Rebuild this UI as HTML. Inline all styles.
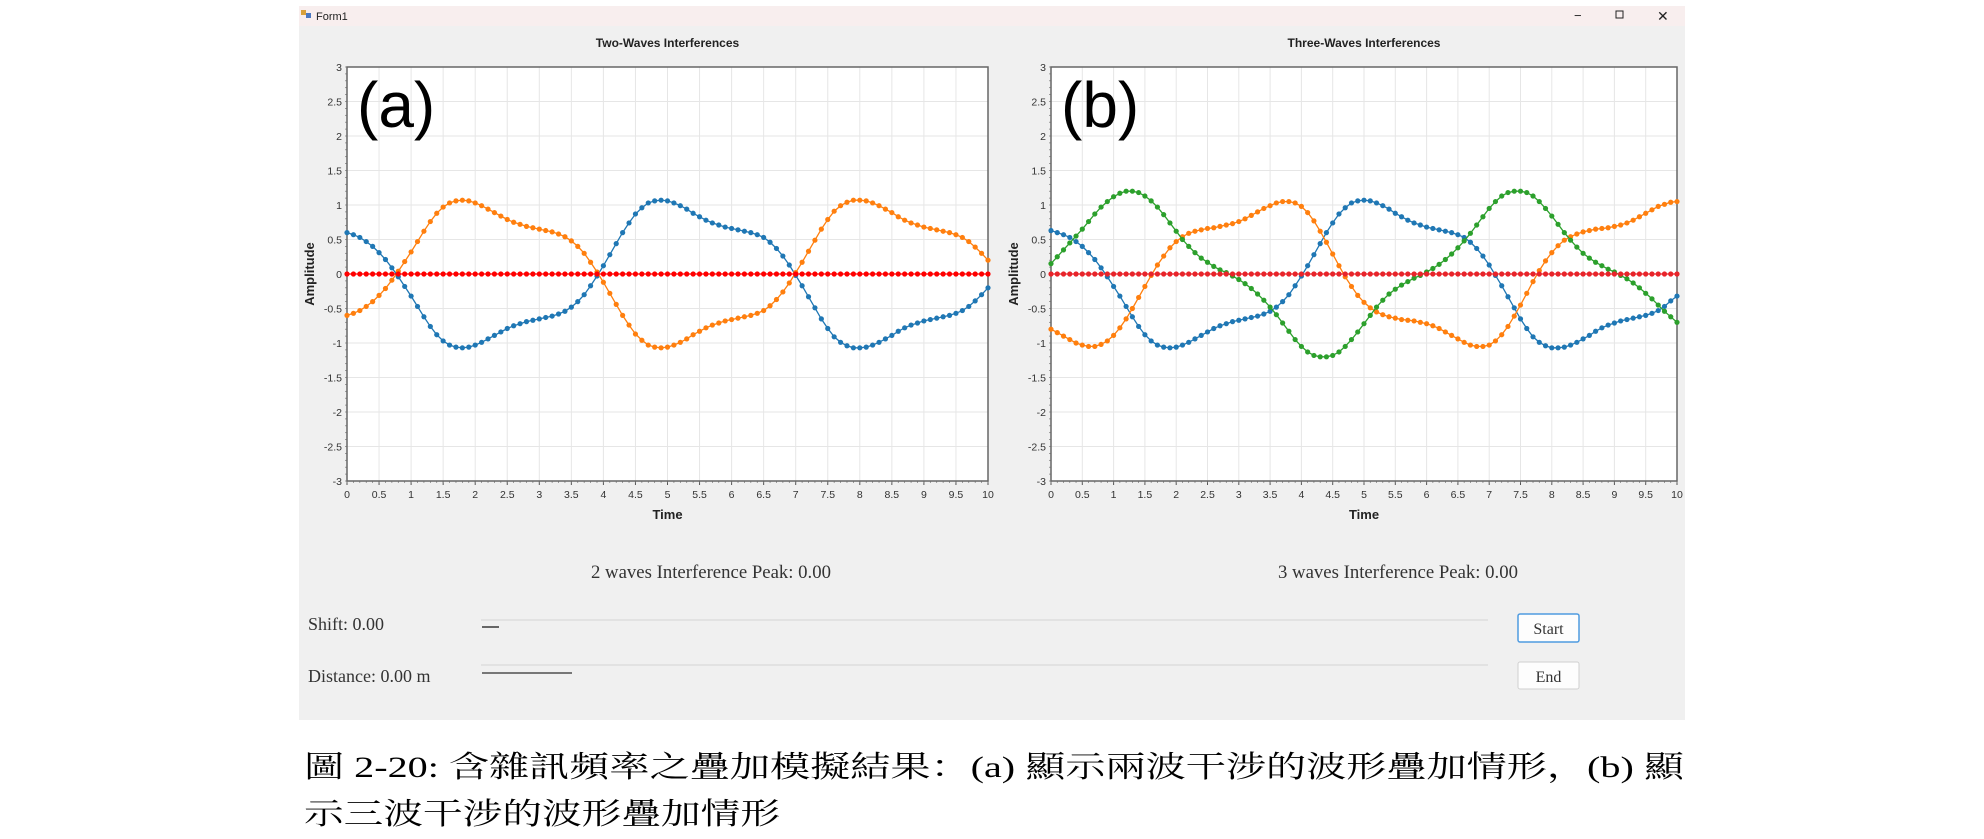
<!DOCTYPE html>
<html><head><meta charset="utf-8"><style>
html,body{margin:0;padding:0;background:#fff;width:1984px;height:839px;overflow:hidden}
svg{display:block}
.ui{font-family:"Liberation Sans Narrow","Liberation Sans",sans-serif}
.sr{font-family:"Liberation Serif","Noto Serif CJK SC",serif}
</style></head><body>
<svg id="root" width="1984" height="839" viewBox="0 0 1984 839" xmlns="http://www.w3.org/2000/svg">
<rect x="299" y="6" width="1386" height="714" fill="#f0f0f0"/>
<rect x="299" y="6" width="1386" height="20" fill="#f8eeee"/>
<rect x="301" y="10" width="5" height="5" fill="#d9a13b"/><rect x="306" y="13" width="5" height="5" fill="#4a78c2"/>
<text x="316" y="20" class="ui" font-size="11" fill="#222">Form1</text>
<text x="1574" y="20" class="ui" font-size="13" fill="#222">−</text>
<rect x="1616" y="11" width="7" height="7" fill="none" stroke="#222" stroke-width="1"/>
<text x="1657" y="21" class="ui" font-size="14" fill="#222">✕</text>
<g id="chartA"></g>
<g id="chartB"></g>
<text x="711" y="578" text-anchor="middle" class="sr" font-size="19" fill="#333" textLength="240" lengthAdjust="spacingAndGlyphs">2 waves Interference Peak: 0.00</text>
<text x="1398" y="578" text-anchor="middle" class="sr" font-size="19" fill="#333" textLength="240" lengthAdjust="spacingAndGlyphs">3 waves Interference Peak: 0.00</text>
<text x="308" y="630" class="sr" font-size="18" fill="#333">Shift: 0.00</text>
<line x1="481" y1="620" x2="1488" y2="620" stroke="#e2e2e2" stroke-width="2"/>
<line x1="482" y1="627" x2="499" y2="627" stroke="#666" stroke-width="2"/>
<text x="308" y="682" class="sr" font-size="18" fill="#333">Distance: 0.00 m</text>
<line x1="481" y1="665" x2="1488" y2="665" stroke="#e2e2e2" stroke-width="2"/>
<line x1="482" y1="673" x2="572" y2="673" stroke="#777" stroke-width="2"/>
<rect x="1518" y="614" width="61" height="28" rx="2" fill="#fdfdfd" stroke="#4f9be0" stroke-width="1.5"/>
<text x="1548.5" y="634" text-anchor="middle" class="sr" font-size="16" fill="#333">Start</text>
<rect x="1518" y="662" width="61" height="27" rx="2" fill="#fdfdfd" stroke="#d0d0d0" stroke-width="1"/>
<text x="1548.5" y="682" text-anchor="middle" class="sr" font-size="16" fill="#333">End</text>
<text x="304" y="777" class="sr" font-size="30" fill="#000" textLength="1380" lengthAdjust="spacingAndGlyphs">圖 2-20: 含雜訊頻率之疊加模擬結果：(a) 顯示兩波干涉的波形疊加情形，(b) 顯</text>
<text x="304" y="824" class="sr" font-size="30" fill="#000" textLength="476" lengthAdjust="spacingAndGlyphs">示三波干涉的波形疊加情形</text>
</svg>
<script>
const timeStart = 0, timeStep = 0.1;
const xTicks = ["0","0.5","1","1.5","2","2.5","3","3.5","4","4.5","5","5.5","6","6.5","7","7.5","8","8.5","9","9.5","10"];
const yTicks = ["-3","-2.5","-2","-1.5","-1","-0.5","0","0.5","1","1.5","2","2.5","3"];
const blueA = [0.60,0.57,0.53,0.47,0.40,0.31,0.21,0.09,-0.04,-0.18,-0.32,-0.47,-0.62,-0.76,-0.88,-0.97,-1.03,-1.06,-1.07,-1.06,-1.03,-0.99,-0.94,-0.89,-0.84,-0.79,-0.75,-0.72,-0.69,-0.67,-0.65,-0.63,-0.61,-0.58,-0.54,-0.48,-0.40,-0.30,-0.17,-0.03,0.12,0.28,0.44,0.60,0.74,0.87,0.96,1.03,1.06,1.07,1.06,1.03,0.99,0.94,0.88,0.83,0.78,0.74,0.71,0.68,0.66,0.64,0.62,0.60,0.57,0.53,0.46,0.37,0.26,0.13,-0.02,-0.17,-0.33,-0.49,-0.65,-0.79,-0.91,-0.99,-1.04,-1.07,-1.07,-1.06,-1.03,-0.99,-0.94,-0.89,-0.83,-0.78,-0.74,-0.71,-0.68,-0.66,-0.64,-0.62,-0.60,-0.57,-0.53,-0.47,-0.39,-0.30,-0.20];
const orangeA = [-0.60,-0.57,-0.53,-0.47,-0.40,-0.31,-0.21,-0.09,0.04,0.18,0.32,0.47,0.62,0.76,0.88,0.97,1.03,1.06,1.07,1.06,1.03,0.99,0.94,0.89,0.84,0.79,0.75,0.72,0.69,0.67,0.65,0.63,0.61,0.58,0.54,0.48,0.40,0.30,0.17,0.03,-0.12,-0.28,-0.44,-0.60,-0.74,-0.87,-0.96,-1.03,-1.06,-1.07,-1.06,-1.03,-0.99,-0.94,-0.88,-0.83,-0.78,-0.74,-0.71,-0.68,-0.66,-0.64,-0.62,-0.60,-0.57,-0.53,-0.46,-0.37,-0.26,-0.13,0.02,0.17,0.33,0.49,0.65,0.79,0.91,0.99,1.04,1.07,1.07,1.06,1.03,0.99,0.94,0.89,0.83,0.78,0.74,0.71,0.68,0.66,0.64,0.62,0.60,0.57,0.53,0.47,0.39,0.30,0.20];
const sumA = [0,0,0,0,0,0,0,0,0,0,0,0,0,0,0,0,0,0,0,0,0,0,0,0,0,0,0,0,0,0,0,0,0,0,0,0,0,0,0,0,0,0,0,0,0,0,0,0,0,0,0,0,0,0,0,0,0,0,0,0,0,0,0,0,0,0,0,0,0,0,0,0,0,0,0,0,0,0,0,0,0,0,0,0,0,0,0,0,0,0,0,0,0,0,0,0,0,0,0,0,0];
const blueB = [0.63,0.60,0.57,0.53,0.47,0.40,0.31,0.21,0.09,-0.04,-0.18,-0.32,-0.47,-0.62,-0.76,-0.88,-0.97,-1.03,-1.06,-1.07,-1.06,-1.03,-0.99,-0.94,-0.89,-0.84,-0.79,-0.75,-0.72,-0.69,-0.67,-0.65,-0.63,-0.61,-0.58,-0.54,-0.48,-0.40,-0.30,-0.17,-0.03,0.12,0.28,0.44,0.60,0.74,0.87,0.96,1.03,1.06,1.07,1.06,1.03,0.99,0.94,0.88,0.83,0.78,0.74,0.71,0.68,0.66,0.64,0.62,0.60,0.57,0.53,0.46,0.37,0.26,0.13,-0.02,-0.17,-0.33,-0.49,-0.65,-0.79,-0.91,-0.99,-1.04,-1.07,-1.07,-1.06,-1.03,-0.99,-0.94,-0.89,-0.83,-0.78,-0.74,-0.71,-0.68,-0.66,-0.64,-0.62,-0.60,-0.57,-0.53,-0.47,-0.39,-0.32];
const orangeB = [-0.80,-0.85,-0.90,-0.95,-1.00,-1.03,-1.05,-1.05,-1.02,-0.97,-0.89,-0.78,-0.65,-0.50,-0.34,-0.18,-0.02,0.13,0.26,0.38,0.47,0.54,0.59,0.62,0.64,0.66,0.67,0.69,0.71,0.73,0.76,0.80,0.85,0.90,0.95,0.99,1.03,1.05,1.05,1.03,0.98,0.89,0.77,0.62,0.46,0.29,0.12,-0.04,-0.18,-0.31,-0.41,-0.49,-0.55,-0.59,-0.62,-0.64,-0.66,-0.67,-0.68,-0.70,-0.72,-0.75,-0.79,-0.84,-0.89,-0.94,-0.99,-1.03,-1.05,-1.05,-1.03,-0.97,-0.88,-0.76,-0.61,-0.45,-0.28,-0.11,0.05,0.19,0.31,0.41,0.49,0.54,0.58,0.61,0.63,0.65,0.66,0.67,0.69,0.71,0.74,0.78,0.83,0.88,0.93,0.98,1.01,1.04,1.05];
const greenB = [0.15,0.25,0.35,0.45,0.55,0.65,0.76,0.87,0.97,1.05,1.12,1.17,1.20,1.20,1.18,1.13,1.06,0.97,0.86,0.74,0.62,0.50,0.40,0.31,0.23,0.17,0.11,0.06,0.02,-0.03,-0.08,-0.14,-0.21,-0.29,-0.38,-0.48,-0.59,-0.71,-0.83,-0.95,-1.05,-1.13,-1.18,-1.20,-1.20,-1.18,-1.13,-1.05,-0.95,-0.84,-0.72,-0.60,-0.48,-0.38,-0.29,-0.22,-0.16,-0.11,-0.06,-0.02,0.03,0.08,0.14,0.21,0.29,0.38,0.48,0.59,0.71,0.83,0.95,1.05,1.13,1.18,1.20,1.20,1.18,1.13,1.05,0.95,0.84,0.72,0.60,0.49,0.39,0.30,0.23,0.17,0.12,0.07,0.03,-0.02,-0.07,-0.13,-0.20,-0.28,-0.36,-0.45,-0.54,-0.62,-0.70];
const sumB = sumA;

const NS="http://www.w3.org/2000/svg";
function mk(tag, attrs, parent){const e=document.createElementNS(NS,tag);for(const k in attrs)e.setAttribute(k,attrs[k]);parent.appendChild(e);return e;}

function drawChart(g, x0, x1, title, tag, series, names){
  const y0=67, y1=481;
  const xs=v=>x0+(v-0)/(10-0)*(x1-x0);
  const ys=v=>y1-(v+3)/6*(y1-y0);
  let e=mk('rect',{x:x0,y:y0,width:x1-x0,height:y1-y0,fill:'#fff'},g);
  
  
  xTicks.forEach(t=>{const v=parseFloat(t),X=xs(v);
    const l=mk('line',{x1:X,y1:y0,x2:X,y2:y1,stroke:'#e6e6e6','stroke-width':1},g);
    
    
    const tk=mk('line',{x1:X,y1:y1,x2:X,y2:y1+4,stroke:'#555'},g);
    
    
    const tx=mk('text',{x:X,y:y1+17,'text-anchor':'middle','font-size':10.5,fill:'#333',class:'ui'},g);tx.textContent=t;
    
    });
  yTicks.forEach(t=>{const v=parseFloat(t),Y=ys(v);
    const l=mk('line',{x1:x0,y1:Y,x2:x1,y2:Y,stroke:'#e6e6e6','stroke-width':1},g);
    
    
    const tx=mk('text',{x:x0-5,y:Y+4,'text-anchor':'end','font-size':10.5,fill:'#333',class:'ui'},g);tx.textContent=t;
    
    });
  for(let i=0;i<=100;i++){const X=xs(i*0.1);const m=mk('line',{x1:X,y1:y1,x2:X,y2:y1+2,stroke:'#777','stroke-width':0.7},g);
    
    }
  for(let i=0;i<=60;i++){const Y=ys(-3+i*0.1);const m=mk('line',{x1:x0-2,y1:Y,x2:x0,y2:Y,stroke:'#777','stroke-width':0.7},g);
    
    }
  e=mk('rect',{x:x0,y:y0,width:x1-x0,height:y1-y0,fill:'none',stroke:'#666','stroke-width':1.5},g);
  
  
  series.forEach((s,si)=>{
    const sg=mk('g',{},g);
    
    
    const pts=s.map((v,i)=>xs(timeStart+i*timeStep).toFixed(1)+','+ys(v).toFixed(1)).join(' ');
    const pl=mk('polyline',{points:pts,fill:'none',stroke:names[si].color,'stroke-width':1.3},sg);
    
    
    s.forEach((v,i)=>{const c=mk('circle',{cx:xs(timeStart+i*timeStep),cy:ys(v),r:2.6,fill:names[si].color},sg);
      
      });
  });
  let t=mk('text',{x:(x0+x1)/2,y:47,'text-anchor':'middle','font-size':12,'font-weight':'bold',fill:'#222',class:'ui'},g);t.textContent=title;
  
  
  t=mk('text',{x:(x0+x1)/2,y:519,'text-anchor':'middle','font-size':13,'font-weight':'bold',fill:'#222',class:'ui'},g);t.textContent='Time';
  
  
  t=mk('text',{x:0,y:0,'text-anchor':'middle','font-size':13,'font-weight':'bold',fill:'#222',class:'ui',transform:`translate(${x0-33},${ys(0)}) rotate(-90)`},g);t.textContent='Amplitude';
  
  
  t=mk('text',{x:x0+10,y:127,'font-size':64,fill:'#000',class:'ui'},g);t.textContent=tag;
  
  
}
drawChart(document.getElementById('chartA'),347,988,'Two-Waves Interferences','(a)',[blueA,orangeA,sumA],
 [{name:'wave-1-series',color:'#1f77b4'},{name:'wave-2-series',color:'#ff7f0e'},{name:'sum-series',color:'#ff0000'}]);
drawChart(document.getElementById('chartB'),1051,1677,'Three-Waves Interferences','(b)',[blueB,orangeB,greenB,sumB],
 [{name:'wave-1-series',color:'#1f77b4'},{name:'wave-2-series',color:'#ff7f0e'},{name:'wave-3-series',color:'#2ca02c'},{name:'sum-series',color:'#e8242a'}]);
</script>
</body></html>
